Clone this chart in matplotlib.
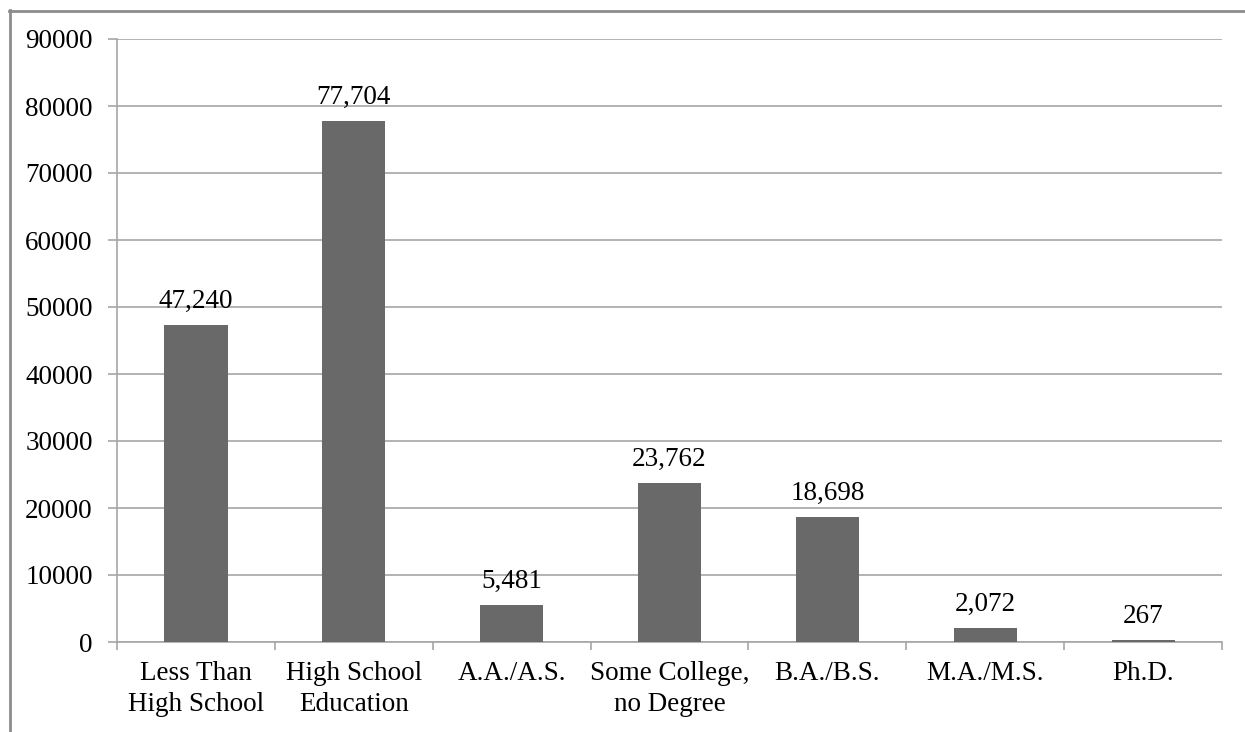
import matplotlib
matplotlib.use("Agg")
import matplotlib.pyplot as plt
from matplotlib.lines import Line2D
import numpy as np

categories = ["Less Than\nHigh School", "High School\nEducation", "A.A./A.S.",
              "Some College,\nno Degree", "B.A./B.S.", "M.A./M.S.", "Ph.D."]
values = [47240, 77704, 5481, 23762, 18698, 2072, 267]
y_ticks = [0, 10000, 20000, 30000, 40000, 50000, 60000, 70000, 80000, 90000]

plt.rcParams['font.family'] = ['Liberation Serif', 'DejaVu Serif']
FS = 19.5

fig = plt.figure(figsize=(12.45, 7.32), dpi=100)
ax = fig.add_axes([117/1245, 1 - 642/732, (1222 - 117)/1245, (642 - 39)/732])

x = np.arange(len(categories))
bars = ax.bar(x, values, width=0.4, color="#696969", zorder=3)

ax.set_xlim(-0.5, len(categories) - 0.5)
ax.set_ylim(0, 90000)
ax.set_yticks(y_ticks)
ax.set_yticklabels([str(v) for v in y_ticks], fontsize=FS)
ax.yaxis.grid(True, color="#a6a6a6", linewidth=1.2, zorder=0)
ax.tick_params(axis="y", length=6.5, width=1.2, color="#a6a6a6", pad=11)

# category labels centred under bars, ticks between categories
ax.set_xticks(np.arange(-0.5, len(categories), 1.0))
ax.set_xticklabels([])
ax.set_xticks(x, minor=True)
ax.set_xticklabels(categories, minor=True, fontsize=FS, linespacing=1.3)
ax.tick_params(axis="x", which="major", length=6, width=1.2, color="#a6a6a6")
ax.tick_params(axis="x", which="minor", length=0, pad=14)

for side in ["top", "right"]:
    ax.spines[side].set_visible(False)
for side in ["left", "bottom"]:
    ax.spines[side].set_color("#a6a6a6")
    ax.spines[side].set_linewidth(1.2)

for xi, v in zip(x, values):
    ax.annotate(f"{v:,}", (xi, v), xytext=(0, 8), textcoords="offset points",
                ha="center", va="bottom", fontsize=FS)

# outer frame of the chart area
fig.add_artist(Line2D([9/1245, 1.0], [1 - 10.5/732, 1 - 10.5/732],
                      transform=fig.transFigure, color="#8c8c8c", linewidth=2))
fig.add_artist(Line2D([9.5/1245, 9.5/1245], [0.0, 1 - 10/732],
                      transform=fig.transFigure, color="#8c8c8c", linewidth=2))

fig.savefig("out.png", dpi=100, facecolor="white")
